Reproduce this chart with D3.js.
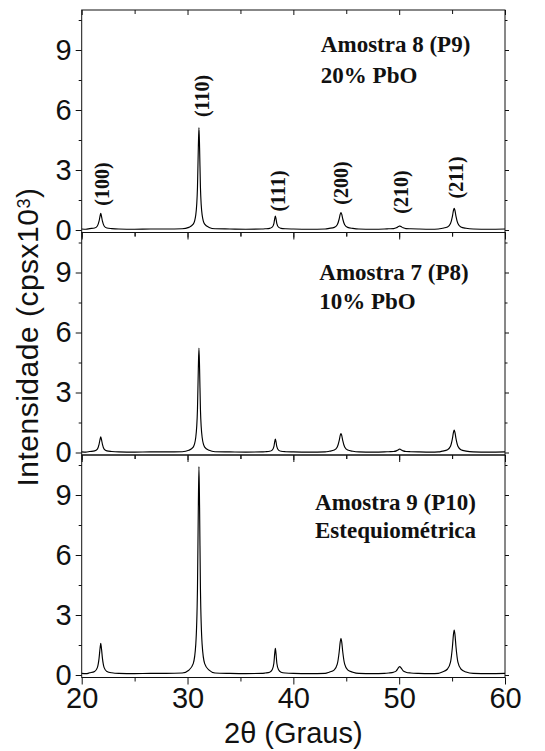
<!DOCTYPE html>
<html><head><meta charset="utf-8">
<script src="https://cdn.jsdelivr.net/npm/d3@7"></script>
<style>body{margin:0;background:#fff} svg{display:block}</style>
</head><body><svg id="c" width="545" height="751"></svg>
<script>
// ---- data ----
const sampleNames = ["Amostra 8 (P9)", "Amostra 7 (P8)", "Amostra 9 (P10)"];
const sampleNotes = ["20% PbO", "10% PbO", "Estequiométrica"];
const hklLabels = ["(100)", "(110)", "(111)", "(200)", "(210)", "(211)"];
const hklLabelTheta = [21.88, 31.4, 38.55, 44.5, 50.15, 55.35];
const hklLabelLevel = [2.3, 6.7, 1.95, 2.35, 1.9, 2.63];
const xTicks = [20, 30, 40, 50, 60];
const xMinorTicks = [25, 35, 45, 55];
const yTicks = [0, 3, 6, 9];
const yMinorTicks = [1.5, 4.5, 7.5, 10.5];
const noteTheta = [42.6, 42.45, 42.05];
const noteLevels = [[8.9, 7.37], [8.62, 7.17], [8.25, 6.83]];

// 2θ (graus), intensidade (cps x 10^3)
const p9 = [[20.0,0.05],[20.4,0.04],
 [20.76,0.07],[21.22,0.10],[21.48,0.20],[21.64,0.44],[21.74,0.71],[21.8,0.83],[21.86,0.71],[21.96,0.44],[22.12,0.20],[22.38,0.10],[22.84,0.07],
 [23.5,0.05],[25.0,0.04],[26.5,0.05],[28.0,0.05],[29.5,0.06],
 [30.12,0.13],[30.54,0.29],[30.78,0.76],[30.94,2.13],[31.02,4.10],[31.08,5.12],[31.14,4.10],[31.22,2.13],[31.38,0.76],[31.62,0.29],[32.04,0.13],
 [32.6,0.06],[34.0,0.05],[35.5,0.04],[37.0,0.05],
 [37.34,0.06],[37.76,0.08],[38.0,0.14],[38.16,0.32],[38.24,0.57],[38.3,0.70],[38.36,0.57],[38.44,0.32],[38.6,0.14],[38.84,0.08],[39.26,0.06],
 [40.0,0.05],[41.5,0.04],[43.0,0.05],
 [43.38,0.08],[43.87,0.13],[44.15,0.26],[44.33,0.55],[44.43,0.79],[44.5,0.87],[44.57,0.79],[44.67,0.55],[44.85,0.26],[45.13,0.13],[45.62,0.08],
 [46.2,0.05],[47.5,0.04],[48.6,0.05],
 [49.01,0.06],[49.47,0.07],[49.73,0.11],[49.89,0.16],[49.99,0.19],[50.05,0.20],[50.11,0.19],[50.21,0.16],[50.38,0.11],[50.64,0.07],[51.09,0.06],
 [51.8,0.05],[53.0,0.04],[53.7,0.05],
 [54.08,0.085],[54.57,0.15],[54.85,0.32],[55.03,0.68],[55.13,0.98],[55.2,1.08],[55.27,0.98],[55.37,0.68],[55.55,0.32],[55.83,0.15],[56.32,0.085],
 [57.0,0.05],[58.5,0.04],[60.0,0.05]];

const p8 = [[20.0,0.03],[20.4,0.02],
 [20.76,0.05],[21.22,0.08],[21.48,0.17],[21.64,0.41],[21.74,0.67],[21.8,0.78],[21.86,0.67],[21.96,0.41],[22.12,0.17],[22.38,0.08],[22.84,0.05],
 [23.5,0.03],[25.0,0.02],[26.5,0.03],[28.0,0.03],[29.5,0.04],
 [30.12,0.11],[30.54,0.27],[30.78,0.76],[30.94,2.16],[31.02,4.18],[31.08,5.22],[31.14,4.18],[31.22,2.16],[31.38,0.76],[31.62,0.27],[32.04,0.11],
 [32.6,0.04],[34.0,0.03],[35.5,0.02],[37.0,0.03],
 [37.34,0.04],[37.76,0.06],[38.0,0.12],[38.16,0.29],[38.24,0.54],[38.3,0.67],[38.36,0.54],[38.44,0.29],[38.6,0.12],[38.84,0.06],[39.26,0.04],
 [40.0,0.03],[41.5,0.02],[43.0,0.03],
 [43.38,0.06],[43.87,0.12],[44.15,0.27],[44.33,0.59],[44.43,0.86],[44.5,0.95],[44.57,0.86],[44.67,0.59],[44.85,0.27],[45.13,0.12],[45.62,0.06],
 [46.2,0.03],[47.5,0.02],[48.6,0.03],
 [49.01,0.04],[49.47,0.05],[49.73,0.08],[49.89,0.13],[49.99,0.16],[50.05,0.17],[50.11,0.16],[50.21,0.13],[50.38,0.08],[50.64,0.05],[51.09,0.04],
 [51.8,0.03],[53.0,0.02],[53.7,0.03],
 [54.08,0.07],[54.57,0.14],[54.85,0.31],[55.03,0.69],[55.13,1.01],[55.2,1.12],[55.27,1.01],[55.37,0.69],[55.55,0.31],[55.83,0.14],[56.32,0.07],
 [57.0,0.03],[58.5,0.02],[60.0,0.03]];

const p10 = [[20.0,0.08],[20.4,0.07],
 [20.76,0.11],[21.22,0.18],[21.48,0.37],[21.64,0.83],[21.74,1.36],[21.8,1.58],[21.86,1.36],[21.96,0.83],[22.12,0.37],[22.38,0.18],[22.84,0.11],
 [23.5,0.08],[25.0,0.07],[26.5,0.08],[28.0,0.08],[29.5,0.10],
 [30.12,0.24],[30.54,0.57],[30.78,1.53],[30.94,4.32],[31.02,8.35],[31.08,10.42],[31.14,8.35],[31.22,4.32],[31.38,1.53],[31.62,0.57],[32.04,0.24],
 [32.6,0.10],[34.0,0.08],[35.5,0.07],[37.0,0.08],
 [37.34,0.10],[37.76,0.14],[38.0,0.26],[38.16,0.59],[38.24,1.08],[38.3,1.33],[38.36,1.08],[38.44,0.59],[38.6,0.26],[38.84,0.14],[39.26,0.10],
 [40.0,0.08],[41.5,0.07],[43.0,0.08],
 [43.38,0.14],[43.87,0.26],[44.15,0.54],[44.33,1.15],[44.43,1.66],[44.5,1.83],[44.57,1.66],[44.67,1.15],[44.85,0.54],[45.13,0.26],[45.62,0.14],
 [46.2,0.08],[47.5,0.07],[48.6,0.08],
 [49.01,0.10],[49.47,0.14],[49.73,0.21],[49.89,0.33],[49.99,0.40],[50.05,0.42],[50.11,0.40],[50.21,0.33],[50.38,0.21],[50.64,0.14],[51.09,0.10],
 [51.8,0.08],[53.0,0.07],[53.7,0.08],
 [54.08,0.15],[54.57,0.30],[54.85,0.64],[55.03,1.40],[55.13,2.03],[55.2,2.25],[55.27,2.03],[55.37,1.40],[55.55,0.64],[55.83,0.30],[56.32,0.15],
 [57.0,0.08],[58.5,0.07],[60.0,0.08]];

const seriesList = [p9, p8, p10];

// ---- layout ----
const svg = d3.select("#c");
const X0 = 81.7, X1 = 505;
const panelTops = [10, 232.5, 455];
const panelH = 222.5;
const sans = "'Liberation Sans', Arial, Helvetica, sans-serif";
const serif = "'Liberation Serif', 'Times New Roman', serif";
const ink = "#111";

const x = d3.scaleLinear().domain([20, 60]).range([X0, X1]);

seriesList.forEach((data, i) => {
  const top = panelTops[i], bottom = top + panelH;
  const y = d3.scaleLinear().domain([-0.125, 11]).range([bottom, top]);
  const g = svg.append("g");

  const ax = (gen, tr) => {
    const a = g.append("g").attr("transform", tr).call(gen);
    a.select(".domain").remove();
    a.selectAll("line").attr("stroke", ink).attr("stroke-width", 1);
    a.selectAll("text").attr("fill", ink).style("font-family", sans).style("font-size", "29px");
    return a;
  };
  ax(d3.axisLeft(y).tickValues(yTicks).tickSize(6).tickPadding(4).tickFormat(d3.format("d")), `translate(${X0},0)`);
  ax(d3.axisLeft(y).tickValues(yMinorTicks).tickSize(3).tickFormat(""), `translate(${X0},0)`);
  ax(d3.axisRight(y).tickValues(yTicks).tickSize(4).tickFormat(""), `translate(${X1},0)`);
  ax(d3.axisRight(y).tickValues(yMinorTicks).tickSize(2.5).tickFormat(""), `translate(${X1},0)`);
  ax(d3.axisBottom(x).tickValues(xTicks).tickSize(7).tickPadding(3)
      .tickFormat(i === 2 ? d3.format("d") : ""), `translate(0,${bottom})`);
  ax(d3.axisBottom(x).tickValues(xMinorTicks).tickSize(4).tickFormat(""), `translate(0,${bottom})`);
  ax(d3.axisTop(x).tickValues(xTicks).tickSize(-5).tickFormat(""), `translate(0,${top})`);
  ax(d3.axisTop(x).tickValues(xMinorTicks).tickSize(-4).tickFormat(""), `translate(0,${top})`);

  g.append("path").datum(data)
    .attr("fill", "none").attr("stroke", "#000").attr("stroke-width", 1.15)
    .attr("stroke-linejoin", "round")
    .attr("d", d3.line().x(d => x(d[0])).y(d => y(d[1])).curve(d3.curveMonotoneX));

  g.append("rect").attr("x", X0).attr("y", top).attr("width", X1 - X0).attr("height", panelH)
    .attr("fill", "none").attr("stroke", ink).attr("stroke-width", 1);

  const t = g.append("g").style("font-family", serif).style("font-weight", "bold")
    .style("font-size", "23px").attr("fill", ink);
  t.append("text").attr("x", x(noteTheta[i])).attr("y", y(noteLevels[i][0])).text(sampleNames[i]);
  t.append("text").attr("x", x(noteTheta[i])).attr("y", y(noteLevels[i][1])).text(sampleNotes[i]);

  if (i === 0) {
    g.append("g").selectAll("text").data(hklLabels).join("text")
      .attr("transform", (d, k) => `translate(${x(hklLabelTheta[k])},${y(hklLabelLevel[k])}) rotate(-90)`)
      .attr("text-anchor", "middle").attr("dominant-baseline", "central")
      .style("font-family", serif).style("font-weight", "bold").style("font-size", "20px")
      .attr("fill", ink).text(d => d);
  }
});

svg.append("text").attr("x", (X0 + X1) / 2).attr("y", 743).attr("text-anchor", "middle")
  .style("font-family", sans).style("font-size", "29px").attr("fill", ink).text("2θ (Graus)");

const yt = svg.append("text").attr("transform", "translate(38,337) rotate(-90)")
  .attr("text-anchor", "middle").style("font-family", sans).style("font-size", "30px")
  .style("letter-spacing", "0.5px").attr("fill", ink);
yt.append("tspan").text("Intensidade (cpsx10");
yt.append("tspan").attr("dy", "-0.45em").style("font-size", "18px").text("3");
yt.append("tspan").attr("dy", "0.28em").text(")");
</script>
</body></html>
